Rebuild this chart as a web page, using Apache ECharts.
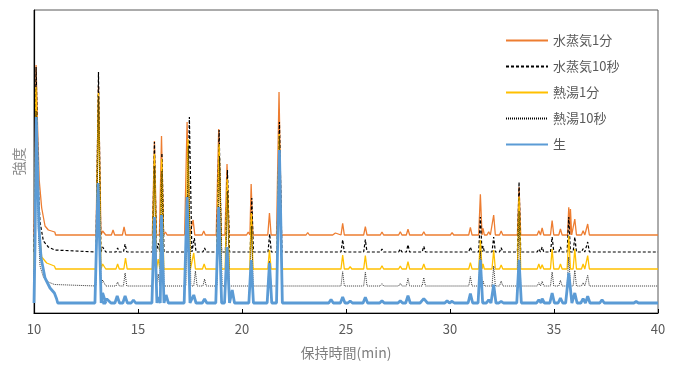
<!DOCTYPE html>
<html>
<head>
<meta charset="utf-8">
<script src="https://cdn.jsdelivr.net/npm/echarts@6/dist/echarts.min.js"></script>
<style>
  html, body { margin: 0; padding: 0; background: #fff; }
  #chart { width: 675px; height: 367px; }
</style>
</head>
<body>
<div id="chart"></div>
<script>
const seriesNames = ['水蒸気1分', '水蒸気10秒', '熱湯1分', '熱湯10秒', '生'];
const xTicks = [10, 15, 20, 25, 30, 35, 40];

// vertical offset of each trace (same units as the y axis)
const offsets = [78, 61, 44, 27, 10];

// solvent front + tail, [min, intensity above own baseline]
const steam1mHead = [[10.0, 0], [10.05, 60], [10.1, 170], [10.17, 110], [10.25, 55], [10.37, 27], [10.53, 9], [10.69, 5], [11.0, 3], [11.04, 0]];
const steam10sHead = [[10.0, 0], [10.05, 60], [10.1, 185], [10.17, 110], [10.22, 60], [10.29, 30], [10.45, 11], [10.69, 5], [11.0, 2], [11.04, 0]];
const hot1mHead = [[10.0, 0], [10.05, 60], [10.1, 182], [10.17, 100], [10.25, 40], [10.37, 12], [10.61, 6], [10.98, 3], [11.04, 0]];
const hot10sHead = [[10.0, 0], [10.05, 60], [10.1, 175], [10.17, 95], [10.22, 50], [10.29, 20], [10.45, 9], [10.69, 4], [10.98, 1.5], [11.02, 0]];
const rawHead = [[10.0, 0], [10.05, 60], [10.11, 186], [10.18, 128], [10.24, 75], [10.34, 45], [10.53, 25], [10.77, 15], [10.98, 10], [11.09, 4], [11.14, 0]];

// peaks: [retention time, height above baseline, optional half width]
const steam1mPeaks = [[11.59, 1.5], [13.1, 149, 0.12], [13.3, 4, 0.15], [13.8, 5], [14.33, 8], [15.79, 94, 0.1], [16.13, 99, 0.1], [16.32, 3],
  [17.36, 113, 0.12], [17.65, 15], [18.16, 4], [18.88, 106, 0.12], [19.28, 71, 0.1], [20.3, 3], [20.44, 51], [21.32, 22], [21.78, 143, 0.12],
  [23.16, 2.5], [24.28, 2], [24.49, 2], [24.84, 11.7], [25.93, 8.3], [26.73, 3], [27.61, 3.3], [27.98, 5.7], [28.74, 3.3], [30.1, 2.3],
  [30.98, 7.7], [31.46, 40.7], [31.59, 6.7, 0.06], [31.86, 3.3], [32.1, 20], [32.46, 4], [33.32, 48], [34.27, 4.3], [34.43, 7],
  [34.91, 14.3], [35.31, 6], [35.71, 27.7, 0.06], [35.79, 26, 0.06], [36.0, 16], [36.4, 4.3], [36.62, 11], [37.31, 1]];
const steam10sPeaks = [[13.1, 180, 0.12], [13.3, 5, 0.15], [14.02, 4], [14.38, 8], [15.79, 110, 0.1], [15.97, 9], [16.15, 99, 0.1],
  [17.47, 135, 0.12], [17.71, 14], [18.2, 4], [18.9, 122, 0.12], [19.3, 82, 0.1], [20.47, 54], [21.33, 18], [21.8, 130, 0.12],
  [24.28, 1.5], [24.84, 12.3], [25.93, 12.3], [26.73, 3], [27.61, 3], [27.98, 7.3], [28.74, 5.7], [30.98, 5], [31.46, 35],
  [31.59, 6, 0.06], [32.1, 15], [32.46, 4.3], [33.32, 70], [34.27, 3], [34.43, 5], [34.91, 15], [35.31, 5], [35.71, 35, 0.08],
  [36.0, 15], [36.4, 3.3], [36.62, 10]];
const hot1mPeaks = [[11.59, 1], [13.1, 176, 0.12], [13.3, 5, 0.15], [14.02, 5], [14.4, 11], [14.78, 2], [15.79, 115, 0.1], [15.97, 10],
  [16.14, 110, 0.1], [17.4, 130, 0.12], [17.68, 16], [18.18, 5], [18.9, 125, 0.12], [19.29, 90, 0.1], [20.45, 56], [21.32, 19], [21.79, 135, 0.12],
  [23.16, 1.5], [24.84, 14], [25.2, 2.3], [25.93, 13.3], [26.73, 3.3], [27.61, 3], [27.98, 7.3], [28.74, 5], [30.1, 1.7], [30.98, 6.3],
  [31.46, 29], [31.59, 5, 0.06], [32.1, 19], [32.46, 4], [33.32, 72], [34.27, 5], [34.43, 4.3], [34.91, 20], [35.31, 5],
  [35.71, 33.3, 0.08], [36.0, 20], [36.4, 5], [36.62, 13.3]];
const hot10sPeaks = [[13.1, 190, 0.12], [13.3, 6, 0.15], [14.02, 4], [14.38, 13], [15.79, 120, 0.1], [15.97, 12], [16.15, 115, 0.1],
  [17.42, 140, 0.12], [17.76, 15], [18.2, 7], [18.92, 130, 0.12], [19.3, 95, 0.1], [20.3, 2], [20.46, 60], [21.32, 25], [21.8, 150, 0.12],
  [24.28, 1.5], [24.84, 14.3], [25.93, 13.7], [26.73, 2.3], [27.61, 2.7], [27.98, 7.7], [28.74, 8.3], [30.98, 9.3], [31.46, 35],
  [31.59, 5, 0.06], [32.1, 20], [32.46, 5], [33.32, 75], [34.27, 3.3], [34.43, 4.7], [34.91, 14], [35.31, 5.7], [35.71, 29, 0.08],
  [36.0, 15.7], [36.4, 3.3], [36.62, 10.7]];
const rawPeaks = [[13.08, 120, 0.15], [13.3, 10, 0.15], [13.5, 4, 0.2], [14.0, 7], [14.38, 7], [14.78, 3], [15.79, 86, 0.12], [15.96, 6],
  [16.13, 88, 0.12], [16.35, 8], [17.36, 106, 0.14], [17.68, 8], [18.2, 4], [18.88, 96, 0.14], [19.28, 56, 0.12], [19.53, 13], [20.44, 43],
  [21.32, 40], [21.8, 153, 0.14], [24.28, 3.5], [24.84, 6], [25.2, 2], [25.93, 5.7], [26.73, 2.3], [27.61, 2.3], [27.98, 7.3],
  [28.74, 4.3, 0.18], [29.86, 2.3], [30.1, 1.7], [30.98, 9.3], [31.46, 43.3], [31.86, 3.3], [32.1, 18.3], [32.46, 1.7], [33.32, 43.3],
  [34.27, 3.3], [34.43, 4.3], [34.91, 10], [35.31, 5], [35.71, 30, 0.15], [36.0, 10], [36.4, 4.3], [36.62, 6.7], [37.31, 3.3],
  [38.95, 1.5]];

const heads = [steam1mHead, steam10sHead, hot1mHead, hot10sHead, rawHead];
const peaks = [steam1mPeaks, steam10sPeaks, hot1mPeaks, hot10sPeaks, rawPeaks];
const halfWidths = [0.08, 0.08, 0.08, 0.08, 0.11];

const colors = ['#ED7D31', '#000000', '#FFC000', '#000000', '#5B9BD5'];
const widths = [1.3, 1.2, 1.3, 0.8, 2.8];
const types = ['solid', [3, 2], 'solid', [1, 1], 'solid'];

function buildTrace(i) {
  const off = offsets[i];
  const pts = heads[i].map(p => [p[0], p[1] + off]);
  peaks[i].forEach(p => {
    const w = p[2] || halfWidths[i];
    pts.push([p[0] - w, off], [p[0], p[1] + off], [p[0] + w, off]);
  });
  pts.push([40, off]);
  return pts;
}

const font = '"Noto Sans CJK JP", "Noto Sans", sans-serif';
const chart = echarts.init(document.getElementById('chart'));

chart.setOption({
  animation: false,
  textStyle: { fontFamily: font },
  grid: {
    left: 34, right: 17, top: 10, bottom: 54,
    show: true, borderColor: '#595959', borderWidth: 1
  },
  legend: {
    orient: 'vertical',
    left: 500, top: 29,
    itemWidth: 42, itemHeight: 14, itemGap: 13,
    itemStyle: { opacity: 0 },
    textStyle: { color: '#595959', fontSize: 13, fontFamily: font },
    data: seriesNames
  },
  xAxis: {
    type: 'value', min: xTicks[0], max: xTicks[xTicks.length - 1], interval: 5,
    name: '保持時間(min)', nameLocation: 'middle', nameGap: 33,
    nameTextStyle: { color: '#7f7f7f', fontSize: 14 },
    axisLine: { lineStyle: { color: '#000', width: 1.2 } },
    axisTick: { inside: true, length: 4, lineStyle: { color: '#000' } },
    axisLabel: { color: '#595959', fontSize: 13, margin: 10 },
    splitLine: { show: false }
  },
  yAxis: {
    type: 'value', min: 0, max: 303,
    name: '強度', nameLocation: 'middle', nameGap: 8,
    nameTextStyle: { color: '#8c8c8c', fontSize: 14 },
    axisLine: { show: true, lineStyle: { color: '#000', width: 1.2 } },
    axisTick: { show: false },
    axisLabel: { show: false },
    splitLine: { show: false }
  },
  series: seriesNames.map((name, i) => ({
    name: name,
    type: 'line',
    data: buildTrace(i),
    symbol: 'none',
    color: colors[i],
    lineStyle: { color: colors[i], width: widths[i], type: types[i] },
    emphasis: { disabled: true }
  }))
});
</script>
</body>
</html>
